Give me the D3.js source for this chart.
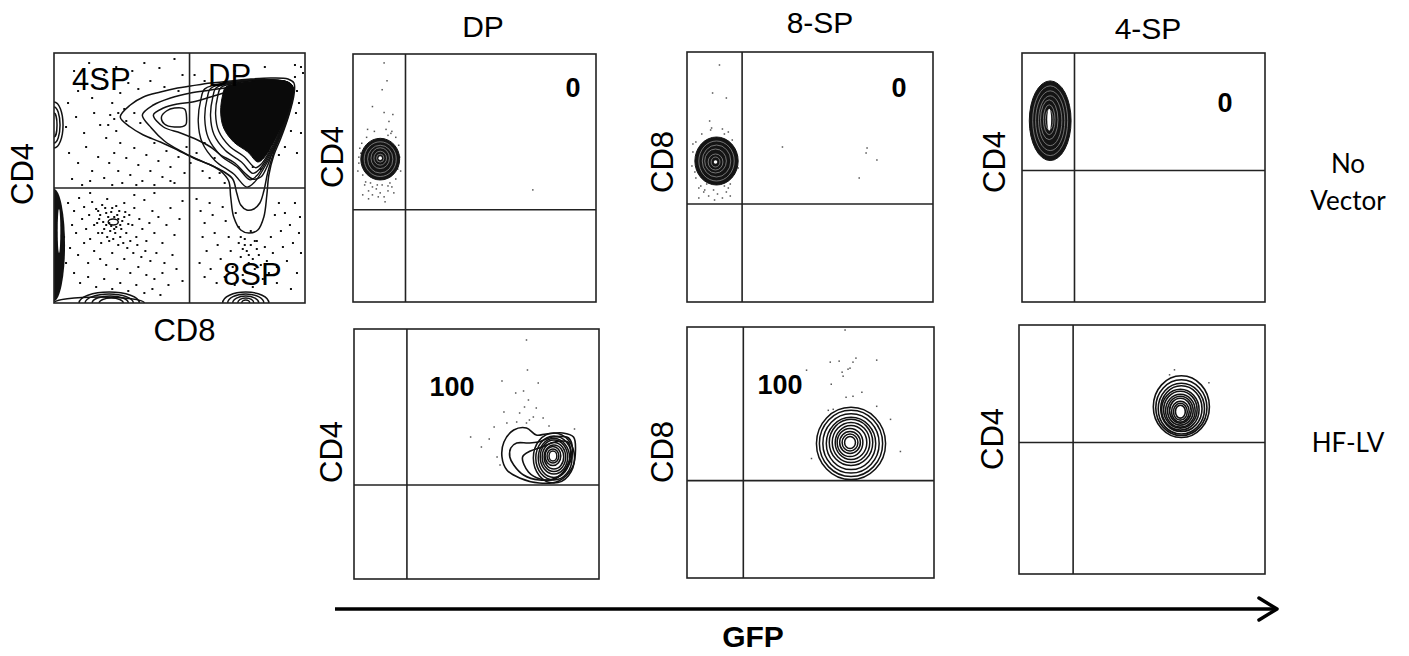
<!DOCTYPE html>
<html>
<head>
<meta charset="utf-8">
<script src="https://cdn.jsdelivr.net/npm/d3@7"></script>
<style>
  body { margin: 0; background: #fff; }
  svg { display: block; }
</style>
</head>
<body>
<svg id="chart" width="1409" height="656"></svg>
<script>
'use strict';

// ---- data (channel units, 0-250 on both axes) ----
const panelIds    = ["overview", "dpNoVec", "sp8NoVec", "sp4NoVec", "dpHF", "sp8HF", "sp4HF"];
const yAxisLabels = ["CD4", "CD4", "CD8", "CD4", "CD4", "CD8", "CD4"];
const gateX       = [135, 54, 56, 54, 54, 57, 55];
const gateY       = [115, 93, 98, 132, 94, 97, 132];
const gfpPercent  = ["", "0", "0", "0", "100", "100", ""];
const columnTitles = ["DP", "8-SP", "4-SP"];
const rowLabels    = [["No", "Vector"], ["HF-LV"]];
const quadrantLabels = ["4SP", "DP", "8SP"];

// overview CD4 x CD8: dense DP blob, its contours, edge populations, dots
const ovBlob = [[171,216],[189,221],[213,223],[233,221],[238,216],[236,201],[229,181],[219,161],
  [209,145],[203,141],[193,151],[179,161],[169,175],[166,191],[168,208]];
const ovBlobRingScale = [1.07, 1.14, 1.22, 1.31];
const ovContours = [
  [[66,186],[76,198],[89,206],[106,211],[123,215],[136,217],[156,220],[176,222],[196,224],[216,225],
   [233,224],[239,220],[239,208],[234,188],[226,165],[219,148],[214,128],[212,108],[209,86],[203,73],
   [194,70],[186,73],[179,86],[176,106],[174,122],[166,132],[156,138],[139,145],[123,153],[106,161],
   [89,168],[76,176]],
  [[88,188],[99,198],[116,205],[136,210],[156,213],[176,216],[199,220],[223,221],[234,218],[234,201],
   [228,175],[219,151],[213,131],[209,112],[205,100],[199,94],[192,93],[186,98],[182,110],[178,124],
   [168,132],[156,138],[142,144],[126,152],[110,162],[97,175]],
  [[99,188],[109,195],[123,199],[138,201],[156,206],[176,212],[200,216],[225,217],[236,212],[233,195],
   [226,172],[218,152],[212,136],[206,126],[198,124],[190,130],[180,140],[166,148],[156,156],[143,163],
   [126,170],[109,176]],
  [[107,186],[112,192],[120,195],[130,194],[132,186],[131,178],[120,176],[110,179]]
];
const ovEdgeRings = [
  [0,178,9,23],[0,178,6,18],[0,178,3,12],
  [45,0,45,6],[55,0,30,11],[55,0,24,9],[56,0,18,7],[57,0,12,5],
  [191,0,23,11],[191,0,18,9],[191,0,13,7],[191,0,8,5],[191,0,4,3],
  [59,81,5,3]
];
const ovEdgeSolid = [[0,58,11,56]];
const ovEdgeSlit  = [[5,72,1.3,22]];
const ovDots = [
  // double negative
  [14,100],[20,92],[25,105],[30,96],[35,88],[38,101],[42,94],[45,84],[48,98],[52,90],[55,80],[58,95],
  [60,86],[62,76],[65,92],[68,82],[70,100],[72,70],[75,88],[78,78],[80,95],[82,66],[85,84],[88,74],
  [90,103],[92,62],[95,80],[98,92],[100,70],[104,86],[108,60],[112,78],[116,95],[120,68],[125,84],[128,102],
  [18,78],[22,70],[28,84],[32,74],[36,64],[40,78],[44,70],[47,60],[50,74],[53,66],[56,72],[59,64],
  [61,70],[64,58],[66,66],[69,60],[73,55],[76,62],[79,50],[83,58],[87,46],[91,52],[96,42],[102,50],
  [110,40],[118,48],[16,55],[24,48],[30,60],[34,40],[40,52],[46,44],[52,38],[58,50],[63,34],[70,44],
  [76,30],[84,36],[92,28],[100,24],[108,30],[114,18],[122,34],[128,22],[20,30],[26,20],[34,26],[42,16],
  [50,24],[58,14],[66,20],[74,12],[82,18],[90,10],[98,14],[106,8],[12,40],[10,66],[8,85],[54,86],
  [63,88],[57,77],[67,74],[49,81],[44,92],[71,91],[62,97],[53,104],[80,108],[36,110],[100,110],
  [46,88],[51,95],[57,91],[64,84],[52,78],[66,78],[60,74],[70,86],[74,79],[48,70],[43,80],[55,62],
  // CD4 single positive
  [20,232],[35,240],[50,228],[62,236],[78,232],[90,240],[105,235],[120,244],[128,228],
  [14,200],[24,212],[38,205],[48,215],[58,200],[66,210],[74,220],[84,214],[96,222],[110,216],[124,212],
  [12,176],[22,186],[30,170],[40,190],[46,178],[52,165],[56,188],[62,172],[66,160],[70,194],
  [15,150],[24,140],[32,156],[38,132],[44,146],[50,125],[55,140],[60,150],[64,132],[68,120],[72,145],
  [76,128],[80,155],[84,138],[88,122],[92,148],[96,132],[100,160],[104,142],[108,126],[112,152],
  [116,136],[120,120],[124,146],[130,130],[132,156],[18,124],[28,118],[36,122],[58,118],[82,118],
  [100,118],[116,122],[60,184],[54,178],[64,190],[72,182],[80,190],[86,180],
  // CD8 single positive
  [142,104],[146,92],[150,80],[148,66],[152,52],[155,100],[158,88],[160,70],[163,58],[166,44],[168,96],
  [171,82],[174,66],[176,52],[178,36],[181,90],[184,60],[186,46],[188,28],[190,64],[192,52],[194,40],
  [196,58],[198,44],[200,34],[202,62],[204,48],[206,38],[208,24],[210,56],[212,42],[214,30],[216,66],
  [218,50],[220,88],[222,36],[224,100],[226,72],[228,56],[230,90],[232,42],[235,78],[238,60],[240,100],
  [242,30],[245,86],[246,50],[145,40],[150,26],[156,34],[162,20],[170,26],[180,18],[198,16],[222,20],
  [236,14],[244,70],[186,66],[190,58],[196,72],[200,62],[194,48],[188,54],[202,54],[184,76],
  // around the DP cloud
  [240,238],[246,236],[210,236],[180,232],[150,222],[140,228],[244,200],[246,170],[242,150],[248,230],
  [136,140],[142,150],[148,132],[155,125],[160,145],[165,130],[170,120],[150,160],
  [240,226],[242,212],[241,190],[236,172],[230,156],[224,148],[216,140],[206,134],[198,136]
];

// no-vector controls: dense GFP- clusters (envelope, inner rings, hollow centre)
const dpNoVecBlob  = [28, 144, 20, 21];
const dpNoVecRings = [[28,144,16.5,17.5],[28,144,13,14],[28,145,9.5,10.5],[28,145,6.5,7],[28,145,3.8,4]];
const dpNoVecCore  = [28, 145, 1.8, 1.8];
const dpNoVecDots  = [[32,241],[35,223],[30,214],[20,197],[32,191],[41,189],[37,182],[15,174],[34,174],
  [39,170],[185,113],[8,150],[6,140],[10,128],[12,118],[16,112],[20,108],[24,114],[28,110],[32,106],
  [36,112],[40,116],[44,124],[46,134],[48,146],[47,158],[44,166],[40,172],[22,172],[14,166],[9,160],
  [5,132],[18,120],[38,120],[26,106],[30,118],[20,116],[42,110],[10,108],[16,104],[33,101],[45,140],
  [7,155],[36,168],[49,132],[6,146],[13,121],[25,118],[36,117],[43,152],[11,136]];

const sp8NoVecBlob  = [30, 141, 22, 24];
const sp8NoVecRings = [[30,141,18,20],[30,141,14.5,16],[29,141,11,12],[29,140,7.5,8],[29,140,4.5,5]];
const sp8NoVecCore  = [29, 140, 1.8, 1.8];
const sp8NoVecDots  = [[33,237],[26,209],[40,204],[23,181],[25,174],[36,173],[97,155],[183,154],
  [182,149],[193,142],[175,124],[6,150],[5,136],[9,124],[12,114],[17,110],[22,106],[27,112],[31,108],
  [36,104],[40,110],[44,118],[48,128],[50,140],[49,152],[46,162],[42,170],[24,172],[15,168],[9,160],
  [8,130],[20,118],[38,116],[28,102],[33,120],[18,112],[44,106],[12,104],[47,146],[38,168],[52,134],
  [6,158],[14,116],[42,114],[51,146]];

const sp4NoVecBlob  = [29, 182, 21.5, 40];
const sp4NoVecRings = [[29,182,18,35],[29,182,15,30],[29,182,12,25],[28,183,9,20],[28,183,6,15],[28,183,4,10]];
const sp4NoVecCore  = [28, 183, 2, 11];

// HF-LV transduced: GFP+ clusters
const dpHFContours = [
  [[153,137],[163,149],[176,151],[186,144],[196,145],[213,146],[224,142],[226,129],[223,112],[209,98],
   [189,96],[169,101],[156,109],[151,122]],
  [[160,131],[166,136],[178,136],[188,137],[203,142],[219,141],[223,129],[219,114],[206,101],[189,99],
   [173,104],[163,114],[159,122]],
  [[172,122],[180,128],[192,132],[205,137],[218,137],[221,125],[217,112],[205,100],[190,100],[178,107]]
];
const dpHFRings = [[204,121,21,25],[204,121,18.5,22],[204,121,16,19.5],[204,122,14,17],[204,122,12,14.5],
  [204,122,10,12],[203,123,8,9.5],[203,123,6,7],[203,123,4,5]];
const dpHFCore  = [203, 124, 1.8, 2.6];
const dpHFDots  = [[176,239],[177,209],[151,198],[188,196],[165,186],[173,188],[178,179],[174,172],
  [186,171],[169,166],[183,162],[193,161],[153,167],[166,157],[156,156],[119,142],[130,132],[138,140],
  [143,152],[199,153],[225,150],[149,114],[146,122],[176,156],[179,159]];

const sp8HFRings = [[166,134,35,36],[166,134,32,33],[166,134,28.5,29.5],[166,134,25,26],[166,135,22,23],
  [166,135,19,20],[166,135,16,17],[165,135,13,14],[165,135,10.5,11],[165,135,8,8.5],[165,135,5.5,6]];
const sp8HFCore  = [165, 135, 3, 3];
const sp8HFDots  = [[160,247],[121,207],[145,215],[154,216],[168,215],[171,219],[192,217],[157,205],
  [163,208],[165,209],[158,201],[146,193],[161,180],[168,181],[177,185],[148,168],[143,167],[192,171],
  [206,158],[216,126],[126,119]];

const sp4HFRings = [[165,168,28.5,31],[165,167,26,28],[165,166,23.5,25.5],[165,166,21,23],
  [164,165,19,20.5],[164,165,17,18.5],[164,164,15,16.5],[164,164,13,14.5],[164,164,11,12.5],
  [164,163,9,10.5],[164,163,7,8.5],[164,163,5,6.5]];
const sp4HFCore  = [164, 163, 3.5, 3.8];
const sp4HFDots  = [[158,205],[153,200],[193,192]];

// ---- layout (pixels) ----
const panelLayout = [
  {x0: 54,   y0: 53,  x1: 305,  y1: 303, labelX: 33,   labelY: 174},
  {x0: 353,  y0: 54,  x1: 596,  y1: 302, labelX: 343,  labelY: 157, pctX: 573,  pctY: 97},
  {x0: 687,  y0: 52,  x1: 933,  y1: 302, labelX: 673,  labelY: 162, pctX: 899,  pctY: 97},
  {x0: 1022, y0: 53,  x1: 1265, y1: 302, labelX: 1005, labelY: 162, pctX: 1225, pctY: 112},
  {x0: 354,  y0: 329, x1: 599,  y1: 579, labelX: 342,  labelY: 452, pctX: 452,  pctY: 396},
  {x0: 687,  y0: 327, x1: 934,  y1: 578, labelX: 673,  labelY: 452, pctX: 780,  pctY: 394},
  {x0: 1019, y0: 325, x1: 1265, y1: 574, labelX: 1003, labelY: 439}
];
const titleLayout = [{x: 483, y: 37}, {x: 820, y: 33}, {x: 1148, y: 39}];
const FONT = '"Liberation Sans", Arial, Helvetica, sans-serif';
const ROW_FONT = 'Lato, "Open Sans", sans-serif';
const INK = "#222";

const svg = d3.select("#chart");
const defs = svg.append("defs");

function makePanel(i) {
  const b = panelLayout[i];
  const x = d3.scaleLinear([0, 250], [b.x0, b.x1]),
        y = d3.scaleLinear([0, 250], [b.y1, b.y0]);
  defs.append("clipPath").attr("id", "clip-" + panelIds[i])
    .append("rect")
      .attr("x", b.x0).attr("y", b.y0)
      .attr("width", b.x1 - b.x0).attr("height", b.y1 - b.y0);
  const g = svg.append("g").attr("class", panelIds[i]);
  const plot = g.append("g").attr("clip-path", `url(#clip-${panelIds[i]})`);
  return {i, b, x, y, g, plot};
}

function drawEllipses(p, data, style) {
  p.plot.append("g").selectAll("ellipse").data(data).join("ellipse")
    .attr("cx", d => p.x(d[0]))
    .attr("cy", d => p.y(d[1]))
    .attr("rx", d => p.x(d[2]) - p.x(0))
    .attr("ry", d => p.y(0) - p.y(d[3]))
    .attr("fill", style.fill || "none")
    .attr("stroke", style.stroke || "none")
    .attr("stroke-width", style.width || 1);
}

function drawContours(p, polys, style) {
  const line = d3.line()
    .x(d => p.x(d[0]))
    .y(d => p.y(d[1]))
    .curve(d3.curveCatmullRomClosed.alpha(0.5));
  p.plot.append("g").selectAll("path").data(polys).join("path")
    .attr("d", line)
    .attr("fill", style.fill || "none")
    .attr("stroke", style.stroke || "none")
    .attr("stroke-width", style.width || 1);
}

function drawDots(p, dots, color, size) {
  p.plot.append("g").selectAll("rect").data(dots).join("rect")
    .attr("x", d => p.x(d[0]) - size / 2)
    .attr("y", d => p.y(d[1]) - size / 2)
    .attr("width", size).attr("height", size)
    .attr("fill", color);
}

function drawFrame(p) {
  const b = p.b;
  p.g.append("rect")
    .attr("x", b.x0).attr("y", b.y0)
    .attr("width", b.x1 - b.x0).attr("height", b.y1 - b.y0)
    .attr("fill", "none").attr("stroke", INK).attr("stroke-width", 1.6);
  p.g.append("line")
    .attr("x1", p.x(gateX[p.i])).attr("x2", p.x(gateX[p.i]))
    .attr("y1", b.y0).attr("y2", b.y1)
    .attr("stroke", INK).attr("stroke-width", 1.6);
  p.g.append("line")
    .attr("x1", b.x0).attr("x2", b.x1)
    .attr("y1", p.y(gateY[p.i])).attr("y2", p.y(gateY[p.i]))
    .attr("stroke", INK).attr("stroke-width", 1.6);
  p.g.append("text")
    .attr("transform", `translate(${b.labelX},${b.labelY}) rotate(-90)`)
    .attr("text-anchor", "middle")
    .attr("font-family", FONT).attr("font-size", 31)
    .text(yAxisLabels[p.i]);
  if (gfpPercent[p.i] !== "") {
    p.g.append("text")
      .attr("x", b.pctX).attr("y", b.pctY)
      .attr("text-anchor", "middle")
      .attr("font-family", FONT).attr("font-size", 27).attr("font-weight", "bold")
      .text(gfpPercent[p.i]);
  }
}

// overview: CD4 vs CD8 of total thymocytes
const ov = makePanel(0);
drawDots(ov, ovDots, "#111", 2);
drawEllipses(ov, ovEdgeSolid, {fill: "#111"});
drawEllipses(ov, ovEdgeSlit, {fill: "#fff"});
drawEllipses(ov, ovEdgeRings, {stroke: "#111", width: 1.5});
drawContours(ov, ovContours, {stroke: "#111", width: 1.5});
const anchor = [238, 222];
const blobRings = ovBlobRingScale.map(s =>
  ovBlob.map(([cx, cy]) => [anchor[0] + (cx - anchor[0]) * s, anchor[1] + (cy - anchor[1]) * s]));
drawContours(ov, blobRings, {stroke: "#111", width: 1.4});
drawContours(ov, [ovBlob], {fill: "#0a0a0a", stroke: "#0a0a0a", width: 1});
drawFrame(ov);
const qPos = [[72, 90], [208, 86], [223, 285]];
ov.g.selectAll(null).data(quadrantLabels).join("text")
  .attr("x", (d, k) => qPos[k][0]).attr("y", (d, k) => qPos[k][1])
  .attr("font-family", FONT).attr("font-size", 31)
  .text(d => d);
ov.g.append("text")
  .attr("x", (ov.b.x0 + ov.b.x1) / 2 + 5).attr("y", 341)
  .attr("text-anchor", "middle")
  .attr("font-family", FONT).attr("font-size", 31)
  .text("CD8");

// no-vector controls
function darkCluster(p, blob, rings, core, dots) {
  if (dots) drawDots(p, dots, "#555", 1.5);
  drawEllipses(p, [blob], {fill: "#141414", stroke: "#141414", width: 1});
  drawEllipses(p, rings, {stroke: "#8c8c8c", width: 0.8});
  drawEllipses(p, [core], {fill: "#fff"});
  drawFrame(p);
}
darkCluster(makePanel(1), dpNoVecBlob, dpNoVecRings, dpNoVecCore, dpNoVecDots);
darkCluster(makePanel(2), sp8NoVecBlob, sp8NoVecRings, sp8NoVecCore, sp8NoVecDots);
darkCluster(makePanel(3), sp4NoVecBlob, sp4NoVecRings, sp4NoVecCore, null);

// HF-LV transduced
const dpHF = makePanel(4);
drawDots(dpHF, dpHFDots, "#555", 1.5);
drawContours(dpHF, dpHFContours, {stroke: "#111", width: 1.6});
drawEllipses(dpHF, dpHFRings, {stroke: "#111", width: 1.5});
drawEllipses(dpHF, [dpHFCore], {fill: "#fff"});
drawFrame(dpHF);

const sp8HF = makePanel(5);
drawDots(sp8HF, sp8HFDots, "#555", 1.5);
drawEllipses(sp8HF, sp8HFRings, {stroke: "#111", width: 1.5});
drawEllipses(sp8HF, [sp8HFCore], {fill: "#fff"});
drawFrame(sp8HF);

const sp4HF = makePanel(6);
drawDots(sp4HF, sp4HFDots, "#555", 1.5);
drawEllipses(sp4HF, sp4HFRings, {stroke: "#111", width: 1.6});
drawEllipses(sp4HF, [sp4HFCore], {fill: "#fff"});
drawFrame(sp4HF);

// column titles and row labels
svg.append("g").selectAll("text").data(columnTitles).join("text")
  .attr("x", (d, k) => titleLayout[k].x).attr("y", (d, k) => titleLayout[k].y)
  .attr("text-anchor", "middle")
  .attr("font-family", FONT).attr("font-size", 30)
  .text(d => d);

const rowY = [[173, 210], [452]];
rowLabels.forEach((lines, r) => {
  svg.append("g").selectAll("text").data(lines).join("text")
    .attr("x", 1348).attr("y", (d, k) => rowY[r][k])
    .attr("text-anchor", "middle")
    .attr("font-family", ROW_FONT).attr("font-size", 26)
    .text(d => d);
});

// GFP axis arrow
const arrow = svg.append("g").attr("stroke", "#000").attr("stroke-width", 3.5)
  .attr("fill", "none").attr("stroke-linecap", "round").attr("stroke-linejoin", "round");
arrow.append("line").attr("x1", 335).attr("x2", 1275).attr("y1", 609).attr("y2", 609)
  .attr("stroke-linecap", "butt");
arrow.append("path").attr("d", "M1259,598 L1277,609 L1259,620");
svg.append("text")
  .attr("x", 753).attr("y", 647)
  .attr("text-anchor", "middle")
  .attr("font-family", FONT).attr("font-size", 30).attr("font-weight", "bold")
  .text("GFP");
</script>
</body>
</html>
